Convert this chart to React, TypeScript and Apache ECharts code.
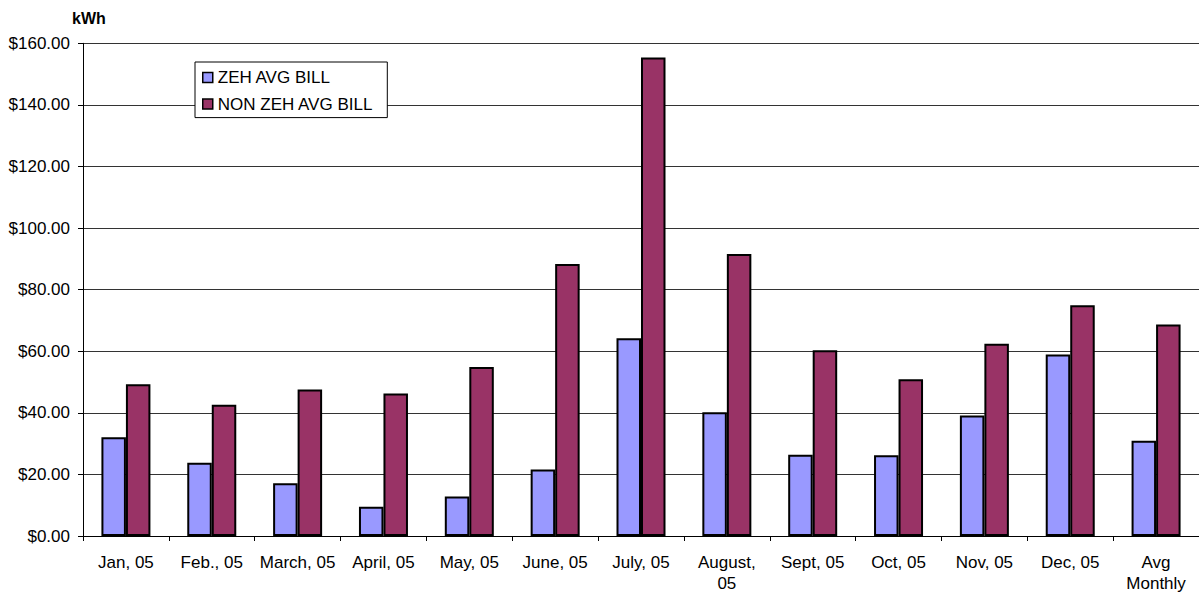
import React, { useEffect, useRef } from "react";
import * as echarts from "echarts";

// Monthly average bills, 2005
const months = [
  "Jan, 05",
  "Feb., 05",
  "March, 05",
  "April, 05",
  "May, 05",
  "June, 05",
  "July, 05",
  "August,\n05",
  "Sept, 05",
  "Oct, 05",
  "Nov, 05",
  "Dec, 05",
  "Avg\nMonthly",
];

const zehAvgBill = [32.1, 23.8, 17.1, 9.5, 12.8, 21.6, 64.2, 40.2, 26.4, 26.2, 39.1, 58.9, 30.9];
const nonZehAvgBill = [49.3, 42.6, 47.6, 46.3, 54.9, 88.3, 155.4, 91.6, 60.3, 50.9, 62.4, 74.9, 68.7];

const FONT = "'Liberation Sans', Arial, sans-serif";

export default function App() {
  const ref = useRef<HTMLDivElement>(null);

  useEffect(() => {
    if (!ref.current) return;
    const chart = echarts.init(ref.current, null, { renderer: "svg" });
    const barStyle = (color: string, w = 2) => ({
      color,
      borderColor: "#000",
      borderWidth: w,
    });
    chart.setOption({
      animation: false,
      backgroundColor: "#fff",
      textStyle: { fontFamily: FONT, color: "#000" },
      grid: { left: 83, top: 43.3, width: 1117, bottom: 57.3, containLabel: false },
      legend: {
        orient: "vertical",
        left: 195,
        top: 62,
        backgroundColor: "#fff",
        borderColor: "#000",
        borderWidth: 1,
        borderRadius: 0,
        padding: [7, 14, 5, 7],
        itemGap: 9.6,
        itemWidth: 10,
        itemHeight: 10,
        itemTextGap: 5,
        icon: "rect",
        textStyle: { fontFamily: FONT, fontSize: 17, color: "#000" },
        data: [
          { name: "ZEH AVG BILL", itemStyle: barStyle("#9999FF", 1.5) },
          { name: "NON ZEH AVG BILL", itemStyle: barStyle("#993366", 1.5) },
        ],
      },
      xAxis: {
        type: "category",
        data: months,
        boundaryGap: true,
        axisLine: { lineStyle: { color: "#000", width: 1 } },
        axisTick: { show: true, length: 5, lineStyle: { color: "#000" } },
        axisLabel: {
          interval: 0,
          margin: 16,
          fontFamily: FONT,
          fontSize: 17,
          color: "#000",
          lineHeight: 21,
        },
      },
      yAxis: {
        type: "value",
        min: 0,
        max: 160,
        interval: 20,
        name: "kWh",
        nameLocation: "end",
        nameGap: 17,
        nameTextStyle: {
          fontFamily: FONT,
          fontSize: 16,
          fontWeight: "bold",
          color: "#000",
          align: "left",
          padding: [0, 0, 0, -11],
        },
        axisLine: { show: true, lineStyle: { color: "#000", width: 1 } },
        axisTick: { show: true, length: 5, lineStyle: { color: "#000" } },
        axisLabel: {
          margin: 13,
          fontFamily: FONT,
          fontSize: 17,
          color: "#000",
          formatter: (v: number) => "$" + v.toFixed(2),
        },
        splitLine: { show: true, lineStyle: { color: "#333", width: 1 } },
      },
      series: [
        {
          name: "ZEH AVG BILL",
          type: "bar",
          data: zehAvgBill,
          barWidth: 24.5,
          barGap: "0%",
          itemStyle: barStyle("#9999FF"),
        },
        {
          name: "NON ZEH AVG BILL",
          type: "bar",
          data: nonZehAvgBill,
          barWidth: 24.5,
          barGap: "0%",
          itemStyle: barStyle("#993366"),
        },
      ],
    });
    return () => chart.dispose();
  }, []);

  return (
    <div
      ref={ref}
      style={{ position: "fixed", left: 0, top: 0, width: "1199px", height: "594px" }}
    />
  );
}
